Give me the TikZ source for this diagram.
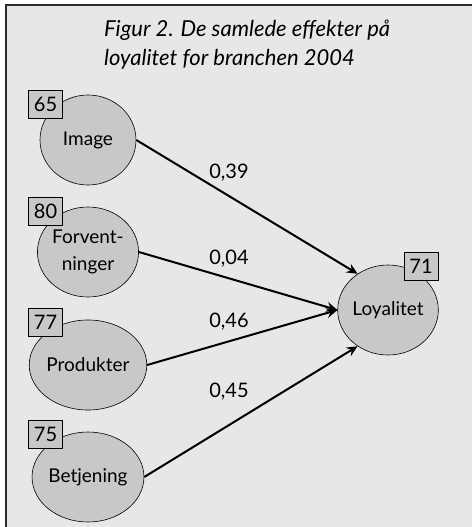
\documentclass[tikz,border=0pt]{standalone}
\usepackage{fontspec}
\setmainfont{Lato}
\usetikzlibrary{arrows.meta,shapes.geometric}
\definecolor{bg}{HTML}{E6E7E9}
\definecolor{nodegray}{HTML}{C8C8C8}
\definecolor{framegray}{HTML}{2A2A2A}
\begin{document}
\begin{tikzpicture}[x=1pt,y=-1pt,
  factor/.style={ellipse,draw=black,line width=0.6pt,fill=nodegray,minimum width=96pt,minimum height=90pt,inner sep=0pt,align=center,font=\fontsize{19}{27}\selectfont},
  scorebox/.style={draw=black,line width=0.6pt,fill=nodegray,minimum width=34pt,minimum height=28pt,inner sep=0pt,font=\fontsize{20}{22}\selectfont},
  effect/.style={-{Stealth[length=11pt,width=10pt,inset=4pt]},line width=2pt},
  coef/.style={font=\fontsize{20}{22}\selectfont}]
\useasboundingbox (0,0) rectangle (472,527);
\fill[white] (0,0) rectangle (472,527);
\fill[bg] (6,5) rectangle (472,527);
\draw[framegray,line width=1.5pt] (6,527) -- (6,5) -- (472,5);
\node[font=\fontsize{22}{29}\selectfont\itshape,align=left,anchor=north west,inner sep=0pt] (title) at (104,20) {Figur 2. De samlede effekter på\\loyalitet for branchen 2004};
\node[factor] (img) at (88,140) {Image};
\node[factor] (forv) at (88,252) {Forvent-\\ninger};
\node[factor] (prod) at (88,365) {Produkter};
\node[factor] (betj) at (88,477) {Betjening};
\node[factor] (loy) at (388,310) {Loyalitet};
\node[scorebox] (s1) at (45.5,104) {65};
\node[scorebox] (s2) at (45.5,211) {80};
\node[scorebox] (s3) at (45.5,322) {77};
\node[scorebox] (s4) at (45.5,434) {75};
\node[scorebox] (s5) at (421,266.5) {71};
\draw[effect] (img.east) -- (loy.130);
\draw[effect] (forv.east) -- (loy.west);
\draw[effect] (prod.east) -- (loy.west);
\draw[effect] (betj.east) -- (loy.230);
\node[coef] (c1) at (229,173) {0,39};
\node[coef] (c2) at (229,259) {0,04};
\node[coef] (c3) at (229,322) {0,46};
\node[coef] (c4) at (229,392) {0,45};
\end{tikzpicture}
\end{document}
